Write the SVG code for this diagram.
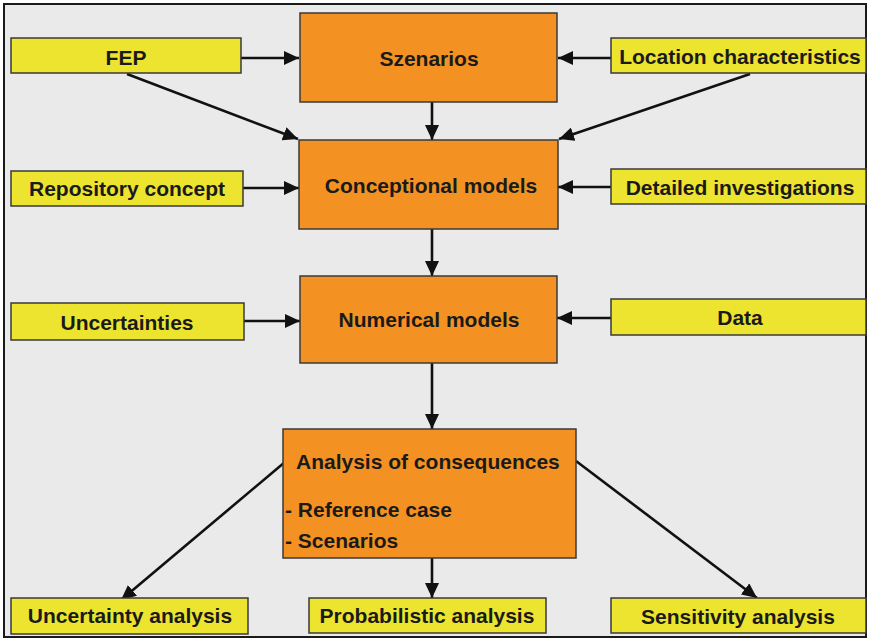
<svg xmlns="http://www.w3.org/2000/svg" width="869" height="638" viewBox="0 0 869 638">
  <defs>
    <marker id="head" markerUnits="userSpaceOnUse" markerWidth="16" markerHeight="14" refX="15" refY="7" orient="auto">
      <path d="M0,0 L15,7 L0,14 Z" fill="#111"/>
    </marker>
    <style>
      .frame { fill: #ebeaeb; stroke: #1a1a1a; stroke-width: 2; }
      .main { fill: #f39223; stroke: #3a3a3a; stroke-width: 1.5; }
      .side { fill: #ece42f; stroke: #3a3a3a; stroke-width: 1.5; }
      text { font-family: "Liberation Sans", Arial, sans-serif; font-weight: bold; font-size: 21px; fill: #1a1a1a; }
      .c { text-anchor: middle; }
      .wire { stroke: #111; stroke-width: 2.6; fill: none; marker-end: url(#head); }
    </style>
  </defs>

  <rect class="frame" x="4" y="4" width="862" height="633"/>

  <g id="connectors">
    <line class="wire" x1="241" y1="58" x2="299" y2="58"/>
    <line class="wire" x1="611" y1="58" x2="558" y2="58"/>
    <line class="wire" x1="127" y1="74" x2="298" y2="139"/>
    <line class="wire" x1="750" y1="74" x2="559" y2="139"/>
    <line class="wire" x1="432" y1="102" x2="432" y2="140"/>
    <line class="wire" x1="243" y1="188" x2="299" y2="188"/>
    <line class="wire" x1="611" y1="187" x2="558" y2="187"/>
    <line class="wire" x1="432" y1="229" x2="432" y2="276"/>
    <line class="wire" x1="244" y1="321" x2="300" y2="321"/>
    <line class="wire" x1="611" y1="318" x2="557" y2="318"/>
    <line class="wire" x1="432" y1="363" x2="432" y2="429"/>
    <line class="wire" x1="285" y1="462" x2="121" y2="600"/>
    <line class="wire" x1="432" y1="558" x2="432" y2="598"/>
    <line class="wire" x1="576" y1="461" x2="757" y2="598"/>
  </g>

  <g id="fep">
    <rect class="side" x="11" y="38" width="230" height="35"/>
    <text class="c" x="126" y="65">FEP</text>
  </g>
  <g id="szenarios">
    <rect class="main" x="300" y="13" width="257" height="89"/>
    <text class="c" x="429" y="66">Szenarios</text>
  </g>
  <g id="location">
    <rect class="side" x="611" y="38" width="255" height="35"/>
    <text class="c" x="740" y="64">Location characteristics</text>
  </g>
  <g id="repository">
    <rect class="side" x="11" y="171" width="232" height="35"/>
    <text class="c" x="127" y="196">Repository concept</text>
  </g>
  <g id="conceptional">
    <rect class="main" x="299" y="140" width="259" height="89"/>
    <text class="c" x="431" y="193">Conceptional models</text>
  </g>
  <g id="detailed">
    <rect class="side" x="611" y="169" width="255" height="35"/>
    <text class="c" x="740" y="195">Detailed investigations</text>
  </g>
  <g id="uncertainties">
    <rect class="side" x="11" y="303" width="233" height="37"/>
    <text class="c" x="127" y="330">Uncertainties</text>
  </g>
  <g id="numerical">
    <rect class="main" x="300" y="276" width="257" height="87"/>
    <text class="c" x="429" y="327">Numerical models</text>
  </g>
  <g id="data">
    <rect class="side" x="611" y="299" width="255" height="36"/>
    <text class="c" x="740" y="325">Data</text>
  </g>
  <g id="analysis">
    <rect class="main" x="283" y="429" width="293" height="129"/>
    <text x="296" y="469">Analysis of consequences</text>
    <text x="285" y="517">- Reference case</text>
    <text x="285" y="548">- Scenarios</text>
  </g>
  <g id="uncertainty-analysis">
    <rect class="side" x="11" y="598" width="237" height="36"/>
    <text class="c" x="130" y="623">Uncertainty analysis</text>
  </g>
  <g id="probabilistic-analysis">
    <rect class="side" x="309" y="598" width="237" height="35"/>
    <text class="c" x="427" y="623">Probabilistic analysis</text>
  </g>
  <g id="sensitivity-analysis">
    <rect class="side" x="611" y="598" width="255" height="35"/>
    <text class="c" x="738" y="624">Sensitivity analysis</text>
  </g>
</svg>
